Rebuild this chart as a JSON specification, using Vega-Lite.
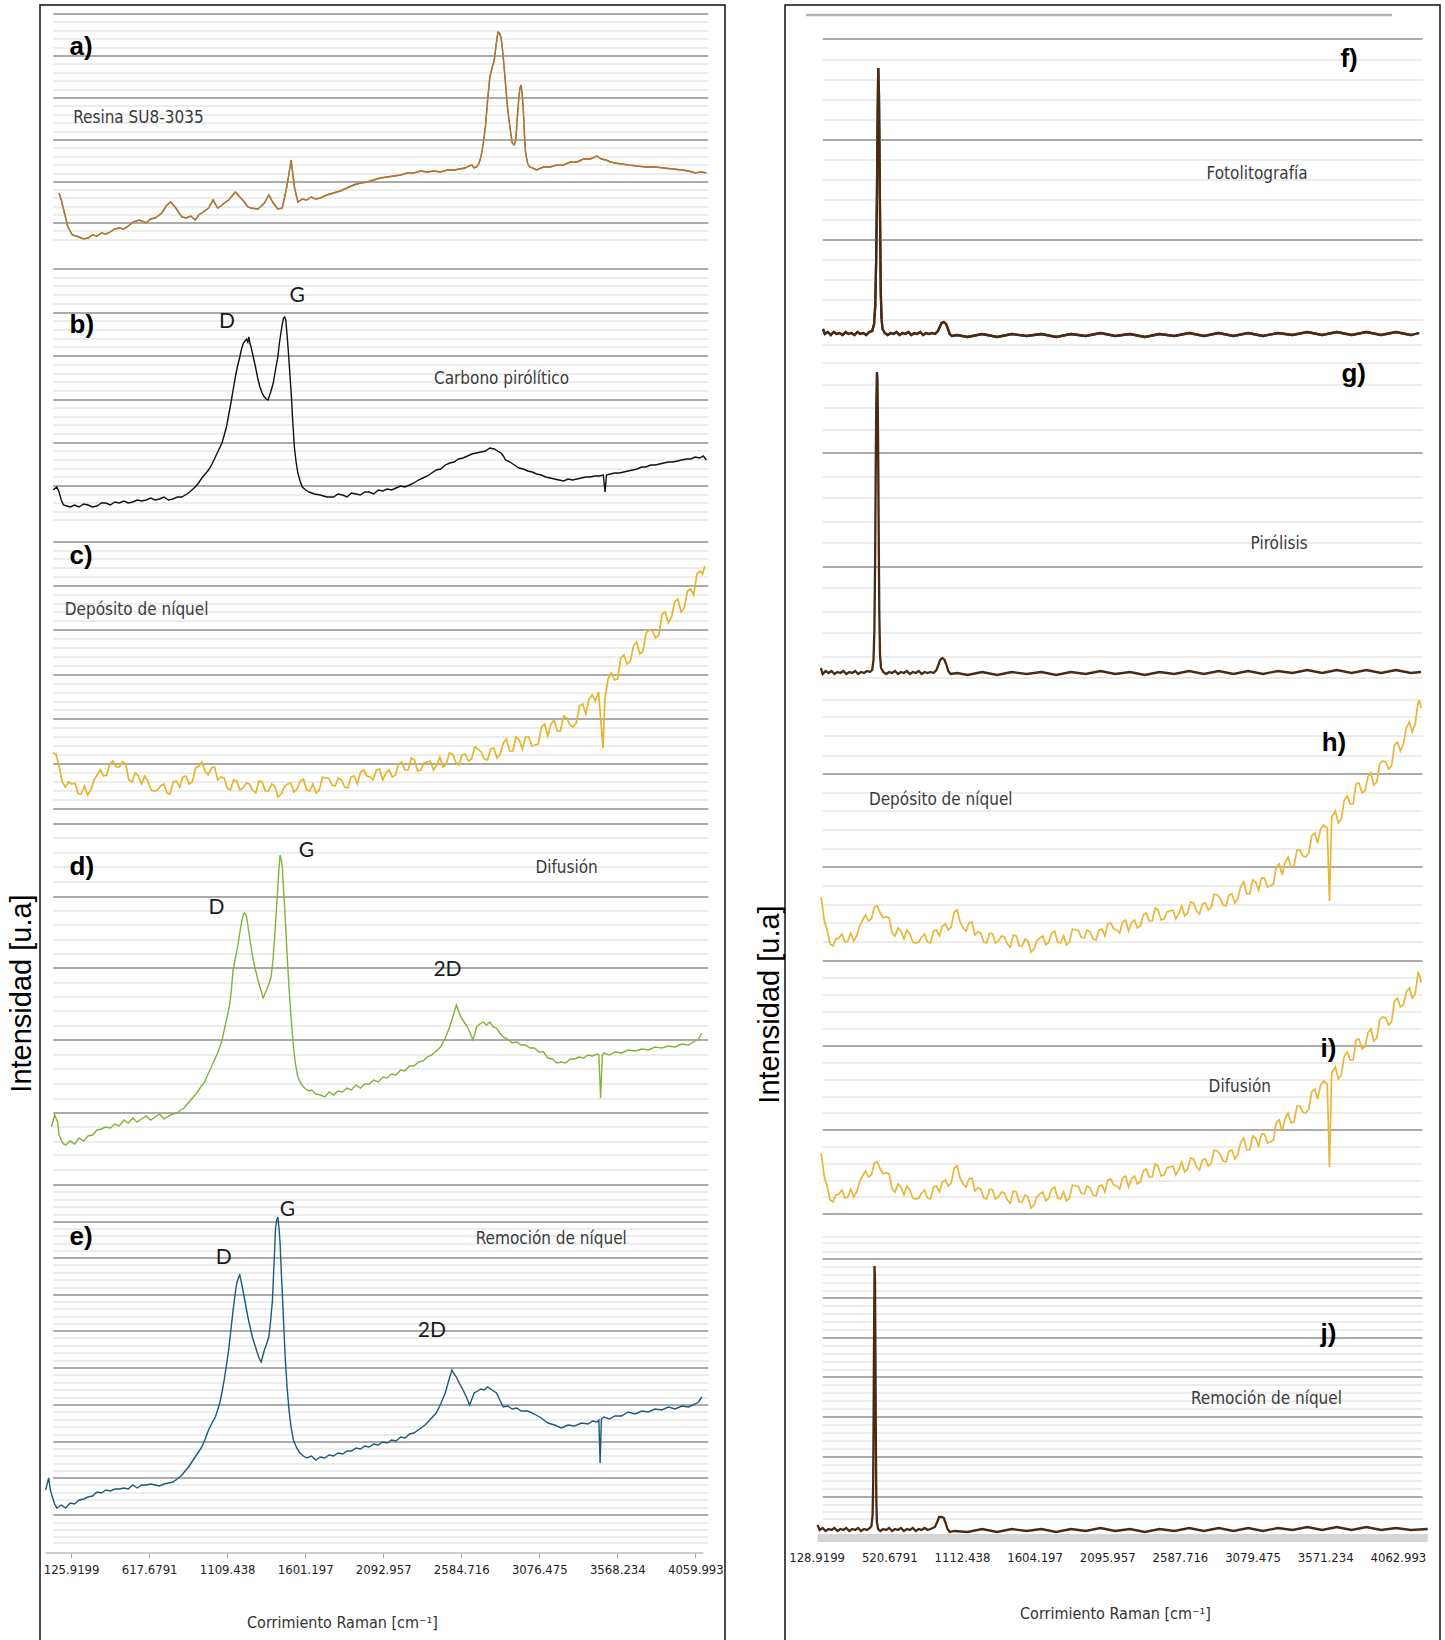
{
  "$schema": "https://vega.github.io/schema/vega-lite/v6.json",
  "padding": {"left": 6, "top": 4, "right": 0, "bottom": 0},
  "spacing": 28,
  "config": {
    "view": {"stroke": "#111111", "strokeWidth": 1.5},
    "font": "Liberation Sans"
  },
  "datasets": {
    "a": [{"x":50,"y":1447},{"x":64,"y":1440},{"x":106,"y":1413},{"x":134,"y":1405},{"x":155,"y":1404},{"x":176,"y":1403},{"x":205,"y":1401},{"x":233,"y":1402},{"x":260,"y":1405},{"x":289,"y":1404},{"x":317,"y":1407},{"x":345,"y":1406},{"x":373,"y":1408},{"x":400,"y":1411},{"x":430,"y":1412},{"x":458,"y":1411},{"x":486,"y":1414},{"x":520,"y":1418},{"x":556,"y":1420},{"x":599,"y":1417},{"x":627,"y":1421},{"x":655,"y":1422},{"x":697,"y":1427},{"x":725,"y":1434},{"x":753,"y":1438},{"x":781,"y":1433},{"x":824,"y":1423},{"x":852,"y":1422},{"x":880,"y":1424},{"x":908,"y":1420},{"x":930,"y":1425},{"x":950,"y":1427},{"x":992,"y":1432},{"x":1021,"y":1440},{"x":1049,"y":1432},{"x":1070,"y":1434},{"x":1091,"y":1437},{"x":1119,"y":1440},{"x":1140,"y":1444},{"x":1161,"y":1448},{"x":1189,"y":1443},{"x":1218,"y":1438},{"x":1240,"y":1433},{"x":1260,"y":1432},{"x":1302,"y":1431},{"x":1325,"y":1434},{"x":1344,"y":1437},{"x":1372,"y":1445},{"x":1400,"y":1437},{"x":1429,"y":1431},{"x":1457,"y":1432},{"x":1485,"y":1453},{"x":1513,"y":1480},{"x":1533,"y":1453},{"x":1555,"y":1438},{"x":1583,"y":1441},{"x":1611,"y":1440},{"x":1640,"y":1443},{"x":1668,"y":1441},{"x":1696,"y":1442},{"x":1738,"y":1445},{"x":1780,"y":1447},{"x":1822,"y":1449},{"x":1865,"y":1452},{"x":1907,"y":1455},{"x":1949,"y":1457},{"x":1991,"y":1458},{"x":2033,"y":1460},{"x":2075,"y":1462},{"x":2118,"y":1463},{"x":2160,"y":1464},{"x":2202,"y":1465},{"x":2245,"y":1467},{"x":2287,"y":1467},{"x":2329,"y":1469},{"x":2371,"y":1468},{"x":2413,"y":1469},{"x":2455,"y":1468},{"x":2497,"y":1470},{"x":2540,"y":1470},{"x":2575,"y":1471},{"x":2610,"y":1472},{"x":2632,"y":1474},{"x":2652,"y":1475},{"x":2666,"y":1472},{"x":2681,"y":1473},{"x":2695,"y":1476},{"x":2709,"y":1483},{"x":2723,"y":1496},{"x":2737,"y":1513},{"x":2751,"y":1540},{"x":2765,"y":1563},{"x":2779,"y":1572},{"x":2793,"y":1580},{"x":2805,"y":1596},{"x":2816,"y":1608},{"x":2825,"y":1607},{"x":2835,"y":1603},{"x":2845,"y":1590},{"x":2855,"y":1573},{"x":2866,"y":1552},{"x":2878,"y":1530},{"x":2892,"y":1512},{"x":2906,"y":1497},{"x":2918,"y":1495},{"x":2928,"y":1500},{"x":2938,"y":1522},{"x":2948,"y":1543},{"x":2955,"y":1552},{"x":2962,"y":1555},{"x":2969,"y":1545},{"x":2976,"y":1530},{"x":2983,"y":1505},{"x":2990,"y":1487},{"x":3004,"y":1476},{"x":3018,"y":1473},{"x":3060,"y":1470},{"x":3103,"y":1473},{"x":3145,"y":1473},{"x":3187,"y":1475},{"x":3230,"y":1475},{"x":3272,"y":1478},{"x":3314,"y":1478},{"x":3356,"y":1481},{"x":3398,"y":1481},{"x":3440,"y":1484},{"x":3468,"y":1481},{"x":3497,"y":1480},{"x":3525,"y":1478},{"x":3553,"y":1477},{"x":3595,"y":1476},{"x":3637,"y":1475},{"x":3693,"y":1474},{"x":3750,"y":1473},{"x":3806,"y":1473},{"x":3862,"y":1472},{"x":3918,"y":1471},{"x":3975,"y":1470},{"x":4017,"y":1469},{"x":4059,"y":1467},{"x":4095,"y":1468},{"x":4130,"y":1467}],
    "b": [{"x":13,"y":1150},{"x":36,"y":1153},{"x":50,"y":1148},{"x":64,"y":1140},{"x":78,"y":1135},{"x":100,"y":1134},{"x":120,"y":1133},{"x":148,"y":1135},{"x":176,"y":1133},{"x":205,"y":1136},{"x":233,"y":1135},{"x":261,"y":1133},{"x":289,"y":1134},{"x":317,"y":1137},{"x":345,"y":1137},{"x":373,"y":1135},{"x":402,"y":1138},{"x":430,"y":1137},{"x":458,"y":1139},{"x":486,"y":1137},{"x":514,"y":1138},{"x":542,"y":1140},{"x":570,"y":1139},{"x":599,"y":1140},{"x":627,"y":1142},{"x":655,"y":1140},{"x":683,"y":1141},{"x":711,"y":1143},{"x":739,"y":1140},{"x":767,"y":1141},{"x":796,"y":1143},{"x":824,"y":1143},{"x":845,"y":1145},{"x":866,"y":1147},{"x":887,"y":1150},{"x":908,"y":1153},{"x":929,"y":1157},{"x":950,"y":1162},{"x":971,"y":1166},{"x":992,"y":1170},{"x":1014,"y":1176},{"x":1035,"y":1183},{"x":1056,"y":1190},{"x":1077,"y":1197},{"x":1091,"y":1205},{"x":1105,"y":1213},{"x":1119,"y":1225},{"x":1133,"y":1237},{"x":1147,"y":1250},{"x":1161,"y":1263},{"x":1175,"y":1274},{"x":1189,"y":1283},{"x":1200,"y":1291},{"x":1212,"y":1297},{"x":1222,"y":1299},{"x":1232,"y":1301},{"x":1240,"y":1298},{"x":1246,"y":1303},{"x":1253,"y":1297},{"x":1260,"y":1293},{"x":1274,"y":1283},{"x":1288,"y":1273},{"x":1302,"y":1262},{"x":1316,"y":1253},{"x":1330,"y":1247},{"x":1344,"y":1243},{"x":1356,"y":1241},{"x":1367,"y":1240},{"x":1384,"y":1248},{"x":1400,"y":1257},{"x":1414,"y":1270},{"x":1429,"y":1283},{"x":1438,"y":1296},{"x":1448,"y":1307},{"x":1457,"y":1316},{"x":1465,"y":1322},{"x":1472,"y":1323},{"x":1479,"y":1320},{"x":1486,"y":1307},{"x":1493,"y":1293},{"x":1503,"y":1270},{"x":1513,"y":1247},{"x":1523,"y":1218},{"x":1533,"y":1193},{"x":1544,"y":1178},{"x":1555,"y":1167},{"x":1569,"y":1159},{"x":1583,"y":1153},{"x":1604,"y":1150},{"x":1626,"y":1148},{"x":1660,"y":1146},{"x":1696,"y":1145},{"x":1738,"y":1143},{"x":1780,"y":1143},{"x":1808,"y":1146},{"x":1837,"y":1145},{"x":1865,"y":1143},{"x":1893,"y":1147},{"x":1921,"y":1146},{"x":1949,"y":1145},{"x":1977,"y":1148},{"x":2005,"y":1148},{"x":2033,"y":1146},{"x":2062,"y":1150},{"x":2090,"y":1149},{"x":2118,"y":1151},{"x":2146,"y":1150},{"x":2174,"y":1152},{"x":2202,"y":1154},{"x":2230,"y":1153},{"x":2259,"y":1155},{"x":2287,"y":1157},{"x":2315,"y":1160},{"x":2343,"y":1162},{"x":2371,"y":1164},{"x":2399,"y":1167},{"x":2427,"y":1170},{"x":2455,"y":1171},{"x":2484,"y":1175},{"x":2512,"y":1177},{"x":2540,"y":1178},{"x":2568,"y":1181},{"x":2596,"y":1182},{"x":2624,"y":1184},{"x":2652,"y":1186},{"x":2681,"y":1187},{"x":2709,"y":1188},{"x":2737,"y":1189},{"x":2765,"y":1192},{"x":2793,"y":1191},{"x":2814,"y":1189},{"x":2835,"y":1187},{"x":2850,"y":1184},{"x":2864,"y":1180},{"x":2892,"y":1178},{"x":2920,"y":1175},{"x":2948,"y":1172},{"x":2976,"y":1171},{"x":3004,"y":1169},{"x":3032,"y":1168},{"x":3060,"y":1166},{"x":3089,"y":1165},{"x":3117,"y":1163},{"x":3145,"y":1162},{"x":3173,"y":1161},{"x":3201,"y":1160},{"x":3230,"y":1159},{"x":3258,"y":1161},{"x":3286,"y":1160},{"x":3314,"y":1161},{"x":3342,"y":1162},{"x":3370,"y":1163},{"x":3398,"y":1163},{"x":3426,"y":1164},{"x":3454,"y":1164},{"x":3480,"y":1165},{"x":3491,"y":1148},{"x":3500,"y":1165},{"x":3525,"y":1166},{"x":3553,"y":1167},{"x":3581,"y":1167},{"x":3609,"y":1168},{"x":3637,"y":1169},{"x":3665,"y":1170},{"x":3693,"y":1171},{"x":3722,"y":1173},{"x":3750,"y":1173},{"x":3778,"y":1175},{"x":3806,"y":1175},{"x":3834,"y":1176},{"x":3862,"y":1177},{"x":3890,"y":1178},{"x":3919,"y":1178},{"x":3947,"y":1179},{"x":3975,"y":1180},{"x":4003,"y":1181},{"x":4031,"y":1181},{"x":4059,"y":1183},{"x":4087,"y":1182},{"x":4110,"y":1184},{"x":4130,"y":1180}],
    "c": [{"x":10,"y":887},{"x":30,"y":886},{"x":50,"y":874},{"x":70,"y":858},{"x":90,"y":853},{"x":110,"y":858},{"x":130,"y":856},{"x":150,"y":857},{"x":170,"y":846},{"x":190,"y":846},{"x":210,"y":854},{"x":230,"y":845},{"x":250,"y":850},{"x":270,"y":860},{"x":290,"y":865},{"x":310,"y":870},{"x":330,"y":864},{"x":350,"y":865},{"x":370,"y":876},{"x":390,"y":879},{"x":410,"y":873},{"x":430,"y":873},{"x":450,"y":878},{"x":470,"y":876},{"x":490,"y":860},{"x":510,"y":858},{"x":530,"y":867},{"x":550,"y":864},{"x":570,"y":856},{"x":590,"y":864},{"x":610,"y":859},{"x":630,"y":850},{"x":650,"y":849},{"x":670,"y":850},{"x":690,"y":854},{"x":710,"y":856},{"x":730,"y":847},{"x":750,"y":846},{"x":770,"y":858},{"x":790,"y":859},{"x":810,"y":853},{"x":830,"y":863},{"x":850,"y":864},{"x":870,"y":856},{"x":890,"y":858},{"x":910,"y":872},{"x":930,"y":874},{"x":950,"y":878},{"x":970,"y":869},{"x":990,"y":865},{"x":1010,"y":872},{"x":1030,"y":873},{"x":1050,"y":860},{"x":1070,"y":863},{"x":1090,"y":862},{"x":1110,"y":852},{"x":1130,"y":850},{"x":1150,"y":860},{"x":1170,"y":859},{"x":1190,"y":850},{"x":1210,"y":852},{"x":1230,"y":857},{"x":1250,"y":856},{"x":1270,"y":850},{"x":1290,"y":847},{"x":1310,"y":859},{"x":1330,"y":858},{"x":1350,"y":849},{"x":1370,"y":849},{"x":1390,"y":856},{"x":1410,"y":854},{"x":1430,"y":843},{"x":1450,"y":846},{"x":1470,"y":853},{"x":1490,"y":856},{"x":1510,"y":857},{"x":1530,"y":848},{"x":1550,"y":851},{"x":1570,"y":859},{"x":1590,"y":861},{"x":1610,"y":850},{"x":1630,"y":849},{"x":1650,"y":856},{"x":1670,"y":847},{"x":1690,"y":850},{"x":1710,"y":863},{"x":1730,"y":862},{"x":1750,"y":862},{"x":1770,"y":855},{"x":1790,"y":854},{"x":1810,"y":862},{"x":1830,"y":860},{"x":1850,"y":853},{"x":1870,"y":852},{"x":1890,"y":863},{"x":1910,"y":864},{"x":1930,"y":856},{"x":1950,"y":868},{"x":1970,"y":870},{"x":1990,"y":864},{"x":2010,"y":863},{"x":2030,"y":860},{"x":2050,"y":870},{"x":2070,"y":871},{"x":2090,"y":860},{"x":2110,"y":867},{"x":2130,"y":870},{"x":2150,"y":863},{"x":2170,"y":865},{"x":2190,"y":876},{"x":2210,"y":878},{"x":2230,"y":870},{"x":2250,"y":870},{"x":2270,"y":882},{"x":2290,"y":880},{"x":2310,"y":869},{"x":2330,"y":870},{"x":2350,"y":877},{"x":2370,"y":878},{"x":2390,"y":879},{"x":2410,"y":870},{"x":2430,"y":875},{"x":2450,"y":883},{"x":2470,"y":873},{"x":2490,"y":876},{"x":2510,"y":887},{"x":2530,"y":886},{"x":2550,"y":878},{"x":2570,"y":875},{"x":2590,"y":885},{"x":2610,"y":886},{"x":2630,"y":879},{"x":2650,"y":881},{"x":2670,"y":893},{"x":2690,"y":891},{"x":2710,"y":888},{"x":2730,"y":881},{"x":2750,"y":880},{"x":2770,"y":891},{"x":2790,"y":892},{"x":2810,"y":882},{"x":2830,"y":886},{"x":2850,"y":897},{"x":2870,"y":901},{"x":2890,"y":889},{"x":2910,"y":889},{"x":2930,"y":903},{"x":2950,"y":900},{"x":2970,"y":891},{"x":2990,"y":903},{"x":3010,"y":903},{"x":3030,"y":894},{"x":3050,"y":895},{"x":3070,"y":896},{"x":3090,"y":913},{"x":3110,"y":916},{"x":3130,"y":904},{"x":3150,"y":916},{"x":3170,"y":920},{"x":3190,"y":909},{"x":3210,"y":909},{"x":3230,"y":924},{"x":3250,"y":922},{"x":3270,"y":915},{"x":3290,"y":913},{"x":3310,"y":917},{"x":3330,"y":934},{"x":3350,"y":936},{"x":3370,"y":926},{"x":3390,"y":941},{"x":3410,"y":945},{"x":3430,"y":939},{"x":3450,"y":948},{"x":3478,"y":892},{"x":3490,"y":941},{"x":3510,"y":961},{"x":3530,"y":967},{"x":3550,"y":960},{"x":3570,"y":961},{"x":3590,"y":982},{"x":3610,"y":985},{"x":3630,"y":976},{"x":3650,"y":979},{"x":3670,"y":994},{"x":3690,"y":998},{"x":3710,"y":986},{"x":3730,"y":989},{"x":3750,"y":1007},{"x":3770,"y":1010},{"x":3790,"y":1009},{"x":3810,"y":1002},{"x":3830,"y":1005},{"x":3850,"y":1026},{"x":3870,"y":1028},{"x":3890,"y":1017},{"x":3910,"y":1023},{"x":3930,"y":1038},{"x":3950,"y":1041},{"x":3970,"y":1028},{"x":3990,"y":1032},{"x":4010,"y":1049},{"x":4030,"y":1051},{"x":4050,"y":1045},{"x":4070,"y":1066},{"x":4090,"y":1069},{"x":4105,"y":1066},{"x":4120,"y":1074}],
    "d": [{"x":2,"y":513},{"x":22,"y":525},{"x":41,"y":518},{"x":50,"y":505},{"x":64,"y":500},{"x":78,"y":496},{"x":92,"y":495},{"x":120,"y":499},{"x":148,"y":496},{"x":176,"y":502},{"x":205,"y":499},{"x":233,"y":504},{"x":261,"y":505},{"x":289,"y":510},{"x":317,"y":511},{"x":345,"y":513},{"x":373,"y":512},{"x":402,"y":516},{"x":430,"y":514},{"x":458,"y":520},{"x":486,"y":517},{"x":514,"y":522},{"x":542,"y":518},{"x":570,"y":521},{"x":599,"y":524},{"x":627,"y":520},{"x":655,"y":523},{"x":683,"y":526},{"x":711,"y":521},{"x":739,"y":524},{"x":767,"y":526},{"x":795,"y":527},{"x":817,"y":530},{"x":838,"y":532},{"x":859,"y":536},{"x":880,"y":540},{"x":901,"y":544},{"x":922,"y":548},{"x":943,"y":553},{"x":964,"y":557},{"x":978,"y":562},{"x":992,"y":567},{"x":1007,"y":572},{"x":1021,"y":577},{"x":1035,"y":582},{"x":1049,"y":587},{"x":1063,"y":593},{"x":1077,"y":600},{"x":1091,"y":610},{"x":1105,"y":620},{"x":1116,"y":628},{"x":1127,"y":637},{"x":1137,"y":652},{"x":1147,"y":670},{"x":1161,"y":682},{"x":1175,"y":693},{"x":1189,"y":707},{"x":1203,"y":720},{"x":1210,"y":725},{"x":1218,"y":727},{"x":1225,"y":726},{"x":1232,"y":723},{"x":1246,"y":708},{"x":1260,"y":693},{"x":1274,"y":680},{"x":1288,"y":670},{"x":1302,"y":661},{"x":1316,"y":653},{"x":1326,"y":648},{"x":1336,"y":642},{"x":1347,"y":646},{"x":1358,"y":650},{"x":1372,"y":656},{"x":1386,"y":663},{"x":1398,"y":680},{"x":1409,"y":703},{"x":1419,"y":728},{"x":1429,"y":753},{"x":1436,"y":772},{"x":1443,"y":785},{"x":1450,"y":780},{"x":1457,"y":773},{"x":1466,"y":748},{"x":1476,"y":720},{"x":1487,"y":686},{"x":1499,"y":653},{"x":1513,"y":621},{"x":1527,"y":593},{"x":1541,"y":575},{"x":1555,"y":563},{"x":1576,"y":556},{"x":1597,"y":552},{"x":1625,"y":549},{"x":1640,"y":550},{"x":1668,"y":546},{"x":1696,"y":545},{"x":1724,"y":543},{"x":1752,"y":548},{"x":1780,"y":545},{"x":1808,"y":549},{"x":1836,"y":548},{"x":1865,"y":552},{"x":1893,"y":550},{"x":1921,"y":555},{"x":1949,"y":552},{"x":1977,"y":556},{"x":2005,"y":556},{"x":2033,"y":560},{"x":2062,"y":558},{"x":2090,"y":563},{"x":2118,"y":562},{"x":2146,"y":566},{"x":2174,"y":565},{"x":2202,"y":570},{"x":2230,"y":569},{"x":2258,"y":574},{"x":2287,"y":574},{"x":2315,"y":578},{"x":2343,"y":579},{"x":2371,"y":583},{"x":2399,"y":585},{"x":2427,"y":589},{"x":2455,"y":593},{"x":2484,"y":602},{"x":2512,"y":613},{"x":2533,"y":624},{"x":2554,"y":635},{"x":2568,"y":629},{"x":2582,"y":623},{"x":2603,"y":618},{"x":2624,"y":613},{"x":2641,"y":607},{"x":2658,"y":600},{"x":2670,"y":606},{"x":2681,"y":613},{"x":2702,"y":616},{"x":2723,"y":618},{"x":2744,"y":615},{"x":2765,"y":618},{"x":2786,"y":613},{"x":2807,"y":612},{"x":2828,"y":607},{"x":2849,"y":603},{"x":2877,"y":601},{"x":2906,"y":597},{"x":2934,"y":598},{"x":2962,"y":595},{"x":2990,"y":595},{"x":3018,"y":592},{"x":3046,"y":592},{"x":3075,"y":588},{"x":3103,"y":588},{"x":3131,"y":582},{"x":3159,"y":581},{"x":3187,"y":577},{"x":3215,"y":578},{"x":3243,"y":577},{"x":3271,"y":581},{"x":3300,"y":581},{"x":3328,"y":583},{"x":3356,"y":582},{"x":3384,"y":585},{"x":3412,"y":584},{"x":3440,"y":586},{"x":3452,"y":585},{"x":3463,"y":542},{"x":3474,"y":585},{"x":3483,"y":587},{"x":3518,"y":585},{"x":3553,"y":588},{"x":3595,"y":587},{"x":3637,"y":590},{"x":3680,"y":589},{"x":3722,"y":591},{"x":3764,"y":590},{"x":3806,"y":593},{"x":3848,"y":592},{"x":3890,"y":594},{"x":3932,"y":593},{"x":3975,"y":596},{"x":4017,"y":595},{"x":4059,"y":599},{"x":4080,"y":601},{"x":4101,"y":607}],
    "e": [{"x":-35,"y":150},{"x":-15,"y":162},{"x":-5,"y":150},{"x":8,"y":143},{"x":22,"y":136},{"x":36,"y":132},{"x":64,"y":135},{"x":92,"y":132},{"x":120,"y":137},{"x":148,"y":136},{"x":176,"y":140},{"x":205,"y":141},{"x":233,"y":143},{"x":261,"y":144},{"x":289,"y":148},{"x":317,"y":147},{"x":345,"y":150},{"x":373,"y":149},{"x":402,"y":151},{"x":430,"y":151},{"x":458,"y":152},{"x":486,"y":151},{"x":514,"y":155},{"x":542,"y":152},{"x":570,"y":155},{"x":599,"y":155},{"x":627,"y":156},{"x":655,"y":155},{"x":683,"y":154},{"x":711,"y":156},{"x":739,"y":157},{"x":767,"y":158},{"x":795,"y":161},{"x":824,"y":165},{"x":845,"y":169},{"x":866,"y":173},{"x":887,"y":178},{"x":908,"y":183},{"x":929,"y":188},{"x":950,"y":193},{"x":971,"y":201},{"x":992,"y":210},{"x":1014,"y":217},{"x":1035,"y":223},{"x":1049,"y":230},{"x":1063,"y":237},{"x":1077,"y":248},{"x":1091,"y":260},{"x":1105,"y":275},{"x":1119,"y":290},{"x":1133,"y":310},{"x":1147,"y":330},{"x":1158,"y":344},{"x":1170,"y":357},{"x":1180,"y":362},{"x":1189,"y":365},{"x":1200,"y":357},{"x":1212,"y":347},{"x":1226,"y":335},{"x":1240,"y":323},{"x":1254,"y":313},{"x":1268,"y":303},{"x":1278,"y":298},{"x":1288,"y":293},{"x":1298,"y":288},{"x":1308,"y":283},{"x":1316,"y":280},{"x":1324,"y":278},{"x":1334,"y":284},{"x":1344,"y":290},{"x":1358,"y":296},{"x":1372,"y":303},{"x":1384,"y":320},{"x":1395,"y":340},{"x":1405,"y":377},{"x":1415,"y":413},{"x":1422,"y":420},{"x":1429,"y":423},{"x":1436,"y":412},{"x":1443,"y":397},{"x":1450,"y":370},{"x":1457,"y":347},{"x":1466,"y":315},{"x":1476,"y":280},{"x":1487,"y":253},{"x":1499,"y":230},{"x":1513,"y":212},{"x":1527,"y":200},{"x":1548,"y":192},{"x":1569,"y":187},{"x":1590,"y":184},{"x":1611,"y":182},{"x":1640,"y":184},{"x":1668,"y":180},{"x":1696,"y":183},{"x":1724,"y":182},{"x":1752,"y":185},{"x":1780,"y":184},{"x":1808,"y":187},{"x":1837,"y":186},{"x":1865,"y":189},{"x":1893,"y":189},{"x":1921,"y":192},{"x":1949,"y":191},{"x":1977,"y":194},{"x":2005,"y":193},{"x":2033,"y":196},{"x":2062,"y":195},{"x":2090,"y":198},{"x":2118,"y":197},{"x":2146,"y":200},{"x":2174,"y":199},{"x":2202,"y":203},{"x":2230,"y":202},{"x":2259,"y":206},{"x":2287,"y":207},{"x":2322,"y":211},{"x":2357,"y":215},{"x":2392,"y":221},{"x":2427,"y":227},{"x":2455,"y":236},{"x":2484,"y":247},{"x":2505,"y":259},{"x":2526,"y":270},{"x":2540,"y":266},{"x":2554,"y":263},{"x":2575,"y":256},{"x":2596,"y":250},{"x":2617,"y":243},{"x":2638,"y":235},{"x":2652,"y":241},{"x":2666,"y":247},{"x":2688,"y":249},{"x":2709,"y":251},{"x":2730,"y":250},{"x":2751,"y":253},{"x":2779,"y":250},{"x":2807,"y":247},{"x":2828,"y":240},{"x":2849,"y":233},{"x":2877,"y":234},{"x":2906,"y":231},{"x":2934,"y":232},{"x":2962,"y":229},{"x":3004,"y":229},{"x":3046,"y":226},{"x":3089,"y":222},{"x":3131,"y":217},{"x":3173,"y":215},{"x":3215,"y":212},{"x":3258,"y":215},{"x":3300,"y":214},{"x":3342,"y":217},{"x":3384,"y":216},{"x":3412,"y":219},{"x":3440,"y":218},{"x":3452,"y":220},{"x":3460,"y":177},{"x":3468,"y":221},{"x":3483,"y":223},{"x":3518,"y":221},{"x":3553,"y":224},{"x":3595,"y":224},{"x":3637,"y":228},{"x":3680,"y":226},{"x":3722,"y":229},{"x":3764,"y":228},{"x":3806,"y":231},{"x":3848,"y":230},{"x":3890,"y":233},{"x":3932,"y":231},{"x":3975,"y":234},{"x":4017,"y":233},{"x":4059,"y":236},{"x":4080,"y":238},{"x":4101,"y":243}],
    "f": [{"x":172,"y":1311},{"x":185,"y":1306},{"x":205,"y":1308},{"x":225,"y":1305},{"x":245,"y":1308},{"x":265,"y":1306},{"x":285,"y":1307},{"x":305,"y":1305},{"x":325,"y":1308},{"x":345,"y":1306},{"x":365,"y":1307},{"x":385,"y":1305},{"x":405,"y":1308},{"x":425,"y":1306},{"x":445,"y":1307},{"x":465,"y":1305},{"x":485,"y":1308},{"x":505,"y":1309},{"x":518,"y":1316},{"x":526,"y":1335},{"x":532,"y":1380},{"x":537,"y":1440},{"x":541,"y":1510},{"x":546,"y":1572},{"x":551,"y":1545},{"x":555,"y":1480},{"x":559,"y":1410},{"x":563,"y":1350},{"x":568,"y":1322},{"x":575,"y":1311},{"x":590,"y":1307},{"x":610,"y":1305},{"x":630,"y":1307},{"x":650,"y":1306},{"x":670,"y":1308},{"x":690,"y":1305},{"x":710,"y":1307},{"x":730,"y":1306},{"x":750,"y":1308},{"x":770,"y":1305},{"x":790,"y":1307},{"x":810,"y":1306},{"x":830,"y":1308},{"x":850,"y":1305},{"x":870,"y":1307},{"x":890,"y":1306},{"x":910,"y":1307},{"x":930,"y":1306},{"x":950,"y":1309},{"x":962,"y":1313},{"x":975,"y":1317},{"x":990,"y":1318},{"x":1005,"y":1316},{"x":1018,"y":1311},{"x":1030,"y":1306},{"x":1045,"y":1304},{"x":1080,"y":1305},{"x":1150,"y":1303},{"x":1250,"y":1306},{"x":1350,"y":1303},{"x":1450,"y":1306},{"x":1550,"y":1304},{"x":1650,"y":1306},{"x":1750,"y":1303},{"x":1850,"y":1306},{"x":1950,"y":1304},{"x":2050,"y":1307},{"x":2150,"y":1304},{"x":2250,"y":1306},{"x":2350,"y":1303},{"x":2450,"y":1306},{"x":2550,"y":1304},{"x":2650,"y":1307},{"x":2750,"y":1304},{"x":2850,"y":1307},{"x":2950,"y":1304},{"x":3050,"y":1307},{"x":3150,"y":1304},{"x":3250,"y":1307},{"x":3350,"y":1305},{"x":3450,"y":1308},{"x":3550,"y":1305},{"x":3650,"y":1308},{"x":3750,"y":1305},{"x":3850,"y":1308},{"x":3950,"y":1305},{"x":4050,"y":1308},{"x":4150,"y":1305},{"x":4207,"y":1307}],
    "g": [{"x":158,"y":972},{"x":170,"y":966},{"x":190,"y":969},{"x":210,"y":967},{"x":230,"y":969},{"x":250,"y":966},{"x":270,"y":968},{"x":290,"y":967},{"x":310,"y":969},{"x":330,"y":966},{"x":350,"y":968},{"x":370,"y":967},{"x":390,"y":969},{"x":410,"y":966},{"x":430,"y":968},{"x":450,"y":967},{"x":470,"y":969},{"x":490,"y":968},{"x":505,"y":970},{"x":514,"y":980},{"x":520,"y":1010},{"x":525,"y":1080},{"x":529,"y":1170},{"x":533,"y":1240},{"x":537,"y":1268},{"x":541,"y":1262},{"x":545,"y":1200},{"x":549,"y":1110},{"x":553,"y":1030},{"x":558,"y":985},{"x":565,"y":972},{"x":580,"y":968},{"x":600,"y":966},{"x":620,"y":968},{"x":640,"y":967},{"x":660,"y":969},{"x":680,"y":966},{"x":700,"y":968},{"x":720,"y":967},{"x":740,"y":969},{"x":760,"y":966},{"x":780,"y":968},{"x":800,"y":967},{"x":820,"y":969},{"x":840,"y":966},{"x":860,"y":968},{"x":880,"y":967},{"x":900,"y":968},{"x":920,"y":967},{"x":940,"y":970},{"x":953,"y":975},{"x":965,"y":980},{"x":980,"y":982},{"x":995,"y":980},{"x":1008,"y":975},{"x":1020,"y":969},{"x":1035,"y":966},{"x":1080,"y":967},{"x":1150,"y":965},{"x":1250,"y":968},{"x":1350,"y":965},{"x":1450,"y":968},{"x":1550,"y":966},{"x":1650,"y":968},{"x":1750,"y":965},{"x":1850,"y":968},{"x":1950,"y":966},{"x":2050,"y":969},{"x":2150,"y":966},{"x":2250,"y":968},{"x":2350,"y":965},{"x":2450,"y":968},{"x":2550,"y":966},{"x":2650,"y":969},{"x":2750,"y":966},{"x":2850,"y":969},{"x":2950,"y":966},{"x":3050,"y":969},{"x":3150,"y":966},{"x":3250,"y":969},{"x":3350,"y":967},{"x":3450,"y":970},{"x":3550,"y":967},{"x":3650,"y":970},{"x":3750,"y":967},{"x":3850,"y":970},{"x":3950,"y":967},{"x":4050,"y":970},{"x":4150,"y":967},{"x":4220,"y":968}],
    "h": [{"x":160,"y":743},{"x":180,"y":720},{"x":200,"y":710},{"x":220,"y":696},{"x":240,"y":694},{"x":260,"y":701},{"x":280,"y":702},{"x":300,"y":706},{"x":320,"y":698},{"x":340,"y":699},{"x":360,"y":707},{"x":380,"y":699},{"x":400,"y":704},{"x":420,"y":714},{"x":440,"y":720},{"x":460,"y":725},{"x":480,"y":719},{"x":500,"y":721},{"x":520,"y":733},{"x":540,"y":734},{"x":560,"y":727},{"x":580,"y":722},{"x":600,"y":723},{"x":620,"y":722},{"x":640,"y":707},{"x":660,"y":704},{"x":680,"y":712},{"x":700,"y":709},{"x":720,"y":701},{"x":740,"y":710},{"x":760,"y":706},{"x":780,"y":698},{"x":800,"y":697},{"x":820,"y":698},{"x":840,"y":703},{"x":860,"y":706},{"x":880,"y":698},{"x":900,"y":697},{"x":920,"y":709},{"x":940,"y":710},{"x":960,"y":704},{"x":980,"y":714},{"x":1000,"y":716},{"x":1020,"y":710},{"x":1040,"y":713},{"x":1060,"y":728},{"x":1080,"y":730},{"x":1100,"y":718},{"x":1120,"y":712},{"x":1140,"y":709},{"x":1160,"y":717},{"x":1180,"y":718},{"x":1200,"y":705},{"x":1220,"y":708},{"x":1240,"y":707},{"x":1260,"y":698},{"x":1280,"y":697},{"x":1300,"y":707},{"x":1320,"y":706},{"x":1340,"y":697},{"x":1360,"y":699},{"x":1380,"y":704},{"x":1400,"y":703},{"x":1420,"y":696},{"x":1440,"y":693},{"x":1460,"y":705},{"x":1480,"y":704},{"x":1500,"y":694},{"x":1520,"y":694},{"x":1540,"y":701},{"x":1560,"y":699},{"x":1580,"y":688},{"x":1600,"y":691},{"x":1620,"y":699},{"x":1640,"y":702},{"x":1660,"y":704},{"x":1680,"y":695},{"x":1700,"y":698},{"x":1720,"y":707},{"x":1740,"y":709},{"x":1760,"y":698},{"x":1780,"y":697},{"x":1800,"y":704},{"x":1820,"y":695},{"x":1840,"y":698},{"x":1860,"y":711},{"x":1880,"y":710},{"x":1900,"y":710},{"x":1920,"y":703},{"x":1940,"y":702},{"x":1960,"y":710},{"x":1980,"y":708},{"x":2000,"y":701},{"x":2020,"y":700},{"x":2040,"y":710},{"x":2060,"y":711},{"x":2080,"y":704},{"x":2100,"y":716},{"x":2120,"y":717},{"x":2140,"y":711},{"x":2160,"y":710},{"x":2180,"y":707},{"x":2200,"y":718},{"x":2220,"y":720},{"x":2240,"y":709},{"x":2260,"y":717},{"x":2280,"y":720},{"x":2300,"y":712},{"x":2320,"y":714},{"x":2340,"y":725},{"x":2360,"y":727},{"x":2380,"y":719},{"x":2400,"y":719},{"x":2420,"y":732},{"x":2440,"y":730},{"x":2460,"y":720},{"x":2480,"y":721},{"x":2500,"y":728},{"x":2520,"y":729},{"x":2540,"y":730},{"x":2560,"y":721},{"x":2580,"y":726},{"x":2600,"y":734},{"x":2620,"y":724},{"x":2640,"y":727},{"x":2660,"y":738},{"x":2680,"y":737},{"x":2700,"y":729},{"x":2720,"y":726},{"x":2740,"y":736},{"x":2760,"y":737},{"x":2780,"y":730},{"x":2800,"y":733},{"x":2820,"y":746},{"x":2840,"y":745},{"x":2860,"y":742},{"x":2880,"y":735},{"x":2900,"y":734},{"x":2920,"y":745},{"x":2940,"y":746},{"x":2960,"y":737},{"x":2980,"y":742},{"x":3000,"y":754},{"x":3020,"y":758},{"x":3040,"y":746},{"x":3060,"y":746},{"x":3080,"y":760},{"x":3100,"y":758},{"x":3120,"y":750},{"x":3140,"y":762},{"x":3160,"y":762},{"x":3180,"y":753},{"x":3200,"y":754},{"x":3220,"y":756},{"x":3240,"y":773},{"x":3260,"y":776},{"x":3280,"y":765},{"x":3300,"y":778},{"x":3320,"y":783},{"x":3340,"y":773},{"x":3360,"y":774},{"x":3380,"y":790},{"x":3400,"y":790},{"x":3420,"y":784},{"x":3440,"y":783},{"x":3460,"y":787},{"x":3480,"y":804},{"x":3500,"y":807},{"x":3520,"y":797},{"x":3540,"y":811},{"x":3560,"y":815},{"x":3585,"y":812},{"x":3600,"y":739},{"x":3615,"y":823},{"x":3640,"y":829},{"x":3660,"y":817},{"x":3680,"y":821},{"x":3700,"y":840},{"x":3720,"y":844},{"x":3740,"y":836},{"x":3760,"y":836},{"x":3780,"y":856},{"x":3800,"y":857},{"x":3820,"y":847},{"x":3840,"y":849},{"x":3860,"y":863},{"x":3880,"y":867},{"x":3900,"y":855},{"x":3920,"y":858},{"x":3940,"y":876},{"x":3960,"y":879},{"x":3980,"y":878},{"x":4000,"y":871},{"x":4020,"y":874},{"x":4040,"y":895},{"x":4060,"y":898},{"x":4080,"y":889},{"x":4100,"y":896},{"x":4120,"y":912},{"x":4140,"y":918},{"x":4160,"y":908},{"x":4180,"y":916},{"x":4200,"y":938},{"x":4210,"y":939},{"x":4220,"y":932}],
    "i": [{"x":160,"y":487},{"x":180,"y":464},{"x":200,"y":454},{"x":220,"y":440},{"x":240,"y":438},{"x":260,"y":445},{"x":280,"y":446},{"x":300,"y":450},{"x":320,"y":442},{"x":340,"y":443},{"x":360,"y":451},{"x":380,"y":443},{"x":400,"y":448},{"x":420,"y":458},{"x":440,"y":464},{"x":460,"y":469},{"x":480,"y":463},{"x":500,"y":465},{"x":520,"y":477},{"x":540,"y":478},{"x":560,"y":471},{"x":580,"y":466},{"x":600,"y":467},{"x":620,"y":466},{"x":640,"y":451},{"x":660,"y":448},{"x":680,"y":456},{"x":700,"y":453},{"x":720,"y":445},{"x":740,"y":454},{"x":760,"y":450},{"x":780,"y":442},{"x":800,"y":441},{"x":820,"y":442},{"x":840,"y":447},{"x":860,"y":450},{"x":880,"y":442},{"x":900,"y":441},{"x":920,"y":453},{"x":940,"y":454},{"x":960,"y":448},{"x":980,"y":458},{"x":1000,"y":460},{"x":1020,"y":454},{"x":1040,"y":457},{"x":1060,"y":472},{"x":1080,"y":474},{"x":1100,"y":462},{"x":1120,"y":456},{"x":1140,"y":453},{"x":1160,"y":461},{"x":1180,"y":462},{"x":1200,"y":449},{"x":1220,"y":452},{"x":1240,"y":451},{"x":1260,"y":442},{"x":1280,"y":441},{"x":1300,"y":451},{"x":1320,"y":450},{"x":1340,"y":441},{"x":1360,"y":443},{"x":1380,"y":448},{"x":1400,"y":447},{"x":1420,"y":440},{"x":1440,"y":437},{"x":1460,"y":449},{"x":1480,"y":448},{"x":1500,"y":438},{"x":1520,"y":438},{"x":1540,"y":445},{"x":1560,"y":443},{"x":1580,"y":432},{"x":1600,"y":435},{"x":1620,"y":443},{"x":1640,"y":446},{"x":1660,"y":448},{"x":1680,"y":439},{"x":1700,"y":442},{"x":1720,"y":451},{"x":1740,"y":453},{"x":1760,"y":442},{"x":1780,"y":441},{"x":1800,"y":448},{"x":1820,"y":439},{"x":1840,"y":442},{"x":1860,"y":455},{"x":1880,"y":454},{"x":1900,"y":454},{"x":1920,"y":447},{"x":1940,"y":446},{"x":1960,"y":454},{"x":1980,"y":452},{"x":2000,"y":445},{"x":2020,"y":444},{"x":2040,"y":454},{"x":2060,"y":455},{"x":2080,"y":448},{"x":2100,"y":460},{"x":2120,"y":461},{"x":2140,"y":455},{"x":2160,"y":454},{"x":2180,"y":451},{"x":2200,"y":462},{"x":2220,"y":464},{"x":2240,"y":453},{"x":2260,"y":461},{"x":2280,"y":464},{"x":2300,"y":456},{"x":2320,"y":458},{"x":2340,"y":469},{"x":2360,"y":471},{"x":2380,"y":463},{"x":2400,"y":463},{"x":2420,"y":476},{"x":2440,"y":474},{"x":2460,"y":464},{"x":2480,"y":465},{"x":2500,"y":472},{"x":2520,"y":473},{"x":2540,"y":474},{"x":2560,"y":465},{"x":2580,"y":470},{"x":2600,"y":478},{"x":2620,"y":468},{"x":2640,"y":471},{"x":2660,"y":482},{"x":2680,"y":481},{"x":2700,"y":473},{"x":2720,"y":470},{"x":2740,"y":480},{"x":2760,"y":481},{"x":2780,"y":474},{"x":2800,"y":477},{"x":2820,"y":490},{"x":2840,"y":489},{"x":2860,"y":486},{"x":2880,"y":479},{"x":2900,"y":478},{"x":2920,"y":489},{"x":2940,"y":490},{"x":2960,"y":481},{"x":2980,"y":486},{"x":3000,"y":498},{"x":3020,"y":502},{"x":3040,"y":490},{"x":3060,"y":490},{"x":3080,"y":504},{"x":3100,"y":502},{"x":3120,"y":494},{"x":3140,"y":506},{"x":3160,"y":506},{"x":3180,"y":497},{"x":3200,"y":498},{"x":3220,"y":500},{"x":3240,"y":517},{"x":3260,"y":520},{"x":3280,"y":509},{"x":3300,"y":522},{"x":3320,"y":527},{"x":3340,"y":517},{"x":3360,"y":518},{"x":3380,"y":534},{"x":3400,"y":534},{"x":3420,"y":528},{"x":3440,"y":527},{"x":3460,"y":531},{"x":3480,"y":548},{"x":3500,"y":551},{"x":3520,"y":541},{"x":3540,"y":555},{"x":3560,"y":559},{"x":3585,"y":556},{"x":3600,"y":473},{"x":3615,"y":567},{"x":3640,"y":573},{"x":3660,"y":561},{"x":3680,"y":565},{"x":3700,"y":584},{"x":3720,"y":588},{"x":3740,"y":580},{"x":3760,"y":580},{"x":3780,"y":600},{"x":3800,"y":601},{"x":3820,"y":591},{"x":3840,"y":593},{"x":3860,"y":607},{"x":3880,"y":611},{"x":3900,"y":599},{"x":3920,"y":602},{"x":3940,"y":620},{"x":3960,"y":623},{"x":3980,"y":622},{"x":4000,"y":615},{"x":4020,"y":618},{"x":4040,"y":639},{"x":4060,"y":642},{"x":4080,"y":633},{"x":4100,"y":635},{"x":4120,"y":648},{"x":4140,"y":652},{"x":4160,"y":642},{"x":4180,"y":646},{"x":4200,"y":667},{"x":4210,"y":665},{"x":4220,"y":657}],
    "j": [{"x":135,"y":115},{"x":150,"y":110},{"x":170,"y":112},{"x":190,"y":109},{"x":210,"y":111},{"x":230,"y":110},{"x":250,"y":112},{"x":270,"y":109},{"x":290,"y":111},{"x":310,"y":110},{"x":330,"y":112},{"x":350,"y":109},{"x":370,"y":111},{"x":390,"y":110},{"x":410,"y":112},{"x":430,"y":109},{"x":450,"y":111},{"x":470,"y":110},{"x":490,"y":112},{"x":500,"y":114},{"x":508,"y":125},{"x":512,"y":160},{"x":515,"y":230},{"x":518,"y":310},{"x":521,"y":374},{"x":524,"y":360},{"x":527,"y":290},{"x":530,"y":200},{"x":533,"y":140},{"x":537,"y":118},{"x":545,"y":111},{"x":560,"y":109},{"x":580,"y":111},{"x":600,"y":110},{"x":620,"y":112},{"x":640,"y":109},{"x":660,"y":111},{"x":680,"y":110},{"x":700,"y":112},{"x":720,"y":109},{"x":740,"y":111},{"x":760,"y":110},{"x":780,"y":112},{"x":800,"y":109},{"x":820,"y":111},{"x":840,"y":110},{"x":860,"y":112},{"x":880,"y":110},{"x":900,"y":111},{"x":930,"y":113},{"x":945,"y":118},{"x":958,"y":123},{"x":975,"y":123},{"x":990,"y":122},{"x":1002,"y":117},{"x":1015,"y":111},{"x":1030,"y":108},{"x":1060,"y":109},{"x":1150,"y":108},{"x":1250,"y":111},{"x":1350,"y":108},{"x":1450,"y":111},{"x":1550,"y":109},{"x":1650,"y":111},{"x":1750,"y":108},{"x":1850,"y":111},{"x":1950,"y":109},{"x":2050,"y":112},{"x":2150,"y":109},{"x":2250,"y":111},{"x":2350,"y":108},{"x":2450,"y":111},{"x":2550,"y":109},{"x":2650,"y":112},{"x":2750,"y":109},{"x":2850,"y":112},{"x":2950,"y":109},{"x":3050,"y":112},{"x":3150,"y":109},{"x":3250,"y":112},{"x":3350,"y":110},{"x":3450,"y":113},{"x":3550,"y":110},{"x":3650,"y":113},{"x":3750,"y":110},{"x":3850,"y":113},{"x":3950,"y":110},{"x":4050,"y":112},{"x":4150,"y":110},{"x":4265,"y":111}],
    "gridL": [{"y":1626,"k":"M"},{"y":1584,"k":"M"},{"y":1542,"k":"M"},{"y":1500,"k":"M"},{"y":1458,"k":"M"},{"y":1417,"k":"M"},{"y":1371,"k":"M"},{"y":1327,"k":"M"},{"y":1284,"k":"M"},{"y":1240,"k":"M"},{"y":1197,"k":"M"},{"y":1154,"k":"M"},{"y":1098,"k":"M"},{"y":1054,"k":"M"},{"y":1010,"k":"M"},{"y":965,"k":"M"},{"y":921,"k":"M"},{"y":876,"k":"M"},{"y":831,"k":"M"},{"y":816,"k":"M"},{"y":743,"k":"M"},{"y":672,"k":"M"},{"y":600,"k":"M"},{"y":527,"k":"M"},{"y":455,"k":"M"},{"y":418,"k":"M"},{"y":382,"k":"M"},{"y":345,"k":"M"},{"y":309,"k":"M"},{"y":272,"k":"M"},{"y":235,"k":"M"},{"y":198,"k":"M"},{"y":162,"k":"M"},{"y":125,"k":"M"},
      {"y":1618,"k":"m"},{"y":1609,"k":"m"},{"y":1601,"k":"m"},{"y":1592,"k":"m"},{"y":1576,"k":"m"},{"y":1567,"k":"m"},{"y":1559,"k":"m"},{"y":1550,"k":"m"},{"y":1534,"k":"m"},{"y":1525,"k":"m"},{"y":1517,"k":"m"},{"y":1508,"k":"m"},{"y":1492,"k":"m"},{"y":1483,"k":"m"},{"y":1475,"k":"m"},{"y":1466,"k":"m"},{"y":1450,"k":"m"},{"y":1442,"k":"m"},{"y":1433,"k":"m"},{"y":1425,"k":"m"},{"y":1409,"k":"m"},{"y":1400,"k":"m"},{"y":1362,"k":"m"},{"y":1354,"k":"m"},{"y":1345,"k":"m"},{"y":1336,"k":"m"},{"y":1319,"k":"m"},{"y":1310,"k":"m"},{"y":1301,"k":"m"},{"y":1293,"k":"m"},{"y":1275,"k":"m"},{"y":1266,"k":"m"},{"y":1258,"k":"m"},{"y":1249,"k":"m"},{"y":1232,"k":"m"},{"y":1223,"k":"m"},{"y":1215,"k":"m"},{"y":1206,"k":"m"},{"y":1189,"k":"m"},{"y":1180,"k":"m"},{"y":1171,"k":"m"},{"y":1163,"k":"m"},{"y":1145,"k":"m"},{"y":1137,"k":"m"},{"y":1128,"k":"m"},{"y":1120,"k":"m"},{"y":1089,"k":"m"},{"y":1081,"k":"m"},{"y":1072,"k":"m"},{"y":1063,"k":"m"},{"y":1045,"k":"m"},{"y":1036,"k":"m"},{"y":1028,"k":"m"},{"y":1019,"k":"m"},{"y":1001,"k":"m"},{"y":992,"k":"m"},{"y":983,"k":"m"},{"y":974,"k":"m"},{"y":956,"k":"m"},{"y":947,"k":"m"},{"y":938,"k":"m"},{"y":930,"k":"m"},{"y":912,"k":"m"},{"y":903,"k":"m"},{"y":894,"k":"m"},{"y":885,"k":"m"},{"y":867,"k":"m"},{"y":858,"k":"m"},{"y":849,"k":"m"},{"y":840,"k":"m"},{"y":802,"k":"m"},{"y":787,"k":"m"},{"y":773,"k":"m"},{"y":758,"k":"m"},{"y":729,"k":"m"},{"y":715,"k":"m"},{"y":700,"k":"m"},{"y":686,"k":"m"},{"y":657,"k":"m"},{"y":643,"k":"m"},{"y":629,"k":"m"},{"y":614,"k":"m"},{"y":585,"k":"m"},{"y":571,"k":"m"},{"y":556,"k":"m"},{"y":541,"k":"m"},{"y":513,"k":"m"},{"y":498,"k":"m"},{"y":485,"k":"m"},{"y":470,"k":"m"},{"y":448,"k":"m"},{"y":440,"k":"m"},{"y":433,"k":"m"},{"y":425,"k":"m"},{"y":411,"k":"m"},{"y":404,"k":"m"},{"y":396,"k":"m"},{"y":389,"k":"m"},{"y":375,"k":"m"},{"y":367,"k":"m"},{"y":360,"k":"m"},{"y":352,"k":"m"},{"y":338,"k":"m"},{"y":331,"k":"m"},{"y":323,"k":"m"},{"y":316,"k":"m"},{"y":302,"k":"m"},{"y":294,"k":"m"},{"y":287,"k":"m"},{"y":279,"k":"m"},{"y":265,"k":"m"},{"y":257,"k":"m"},{"y":250,"k":"m"},{"y":242,"k":"m"},{"y":228,"k":"m"},{"y":220,"k":"m"},{"y":213,"k":"m"},{"y":205,"k":"m"},{"y":191,"k":"m"},{"y":184,"k":"m"},{"y":176,"k":"m"},{"y":169,"k":"m"},{"y":155,"k":"m"},{"y":147,"k":"m"},{"y":140,"k":"m"},{"y":132,"k":"m"},{"y":117,"k":"m"},{"y":110,"k":"m"},{"y":103,"k":"m"},{"y":97,"k":"m"},
      {"y":87,"k":"axis"}],
    "gridR": [{"y":1625,"k":"top"},
      {"y":1601,"k":"M"},{"y":1500,"k":"M"},{"y":1400,"k":"M"},{"y":1187,"k":"M"},{"y":1073,"k":"M"},{"y":866,"k":"M"},{"y":773,"k":"M"},{"y":679,"k":"M"},{"y":594,"k":"M"},{"y":510,"k":"M"},{"y":426,"k":"M"},{"y":381,"k":"M"},{"y":342,"k":"M"},{"y":302,"k":"M"},{"y":263,"k":"M"},{"y":223,"k":"M"},{"y":183,"k":"M"},{"y":143,"k":"M"},
      {"y":1580,"k":"m"},{"y":1560,"k":"m"},{"y":1540,"k":"m"},{"y":1520,"k":"m"},{"y":1480,"k":"m"},{"y":1460,"k":"m"},{"y":1440,"k":"m"},{"y":1420,"k":"m"},{"y":1380,"k":"m"},{"y":1360,"k":"m"},{"y":1340,"k":"m"},{"y":1320,"k":"m"},{"y":1295,"k":"m"},{"y":1277,"k":"m"},{"y":1255,"k":"m"},{"y":1232,"k":"m"},{"y":1210,"k":"m"},{"y":1163,"k":"m"},{"y":1142,"k":"m"},{"y":1118,"k":"m"},{"y":1097,"k":"m"},{"y":1052,"k":"m"},{"y":1028,"k":"m"},{"y":1007,"k":"m"},{"y":983,"k":"m"},{"y":962,"k":"m"},{"y":940,"k":"m"},{"y":923,"k":"m"},{"y":904,"k":"m"},{"y":884,"k":"m"},{"y":847,"k":"m"},{"y":829,"k":"m"},{"y":810,"k":"m"},{"y":791,"k":"m"},{"y":754,"k":"m"},{"y":735,"k":"m"},{"y":717,"k":"m"},{"y":698,"k":"m"},{"y":662,"k":"m"},{"y":645,"k":"m"},{"y":628,"k":"m"},{"y":611,"k":"m"},{"y":577,"k":"m"},{"y":560,"k":"m"},{"y":543,"k":"m"},{"y":527,"k":"m"},{"y":493,"k":"m"},{"y":476,"k":"m"},{"y":459,"k":"m"},{"y":443,"k":"m"},{"y":403,"k":"m"},{"y":397,"k":"m"},{"y":388,"k":"m"},{"y":373,"k":"m"},{"y":365,"k":"m"},{"y":357,"k":"m"},{"y":349,"k":"m"},{"y":334,"k":"m"},{"y":326,"k":"m"},{"y":318,"k":"m"},{"y":310,"k":"m"},{"y":294,"k":"m"},{"y":286,"k":"m"},{"y":278,"k":"m"},{"y":270,"k":"m"},{"y":255,"k":"m"},{"y":247,"k":"m"},{"y":239,"k":"m"},{"y":231,"k":"m"},{"y":215,"k":"m"},{"y":207,"k":"m"},{"y":199,"k":"m"},{"y":191,"k":"m"},{"y":175,"k":"m"},{"y":167,"k":"m"},{"y":159,"k":"m"},{"y":151,"k":"m"},{"y":135,"k":"m"},{"y":128,"k":"m"},{"y":121,"k":"m"},
      {"y":102,"k":"band"}],
    "notesL": [{"t":"a)","x":116,"y":1593,"k":"tag"},{"t":"b)","x":116,"y":1315,"k":"tag"},{"t":"c)","x":116,"y":1084,"k":"tag"},{"t":"d)","x":116,"y":773,"k":"tag"},{"t":"e)","x":116,"y":403,"k":"tag"},
      {"t":"Resina SU8-3035","x":139,"y":1522,"k":"name"},{"t":"Carbono pirólítico","x":2413,"y":1261,"k":"name"},{"t":"Depósito de níquel","x":86,"y":1030,"k":"name"},{"t":"Difusión","x":3052,"y":772,"k":"name"},{"t":"Remoción de níquel","x":2676,"y":401,"k":"name"},
      {"t":"D","x":1108,"y":1318,"k":"peak"},{"t":"G","x":1550,"y":1344,"k":"peak"},{"t":"D","x":1042,"y":732,"k":"peak"},{"t":"G","x":1609,"y":789,"k":"peak"},{"t":"2D","x":2498,"y":670,"k":"peak"},{"t":"D","x":1088,"y":382,"k":"peak"},{"t":"G","x":1490,"y":430,"k":"peak"},{"t":"2D","x":2399,"y":309,"k":"peak"}],
    "notesR": [{"t":"f)","x":3674,"y":1581,"k":"tag"},{"t":"g)","x":3681,"y":1266,"k":"tag"},{"t":"h)","x":3547,"y":897,"k":"tag"},{"t":"i)","x":3540,"y":591,"k":"tag"},{"t":"j)","x":3540,"y":306,"k":"tag"},
      {"t":"Fotolitografía","x":2768,"y":1466,"k":"name"},{"t":"Pirólisis","x":3066,"y":1096,"k":"name"},{"t":"Depósito de níquel","x":483,"y":840,"k":"name"},{"t":"Difusión","x":2782,"y":553,"k":"name"},{"t":"Remoción de níquel","x":2662,"y":241,"k":"name"}]
  },
  "hconcat": [
    {
      "width": 685,
      "height": 1637,
      "layer": [
        {"data": {"name": "a"},
         "mark": {"type": "line", "color": "#ad7633", "strokeWidth": 1.4},
         "encoding": {
           "x": {"field": "x", "type": "quantitative", "scale": {"domain": [-70.1, 4247], "nice": false, "zero": false},
                 "axis": {"title": "Corrimiento Raman [cm⁻¹]", "values": [125.9199, 617.6791, 1109.438, 1601.197, 2092.957, 2584.716, 3076.475, 3568.234, 4059.993],
                          "format": ".7r", "offset": -89, "domain": false, "grid": false, "ticks": true, "tickColor": "#a8a8a8", "tickSize": 5,
                          "labelPadding": 5, "labelFont": "Liberation Sans Narrow, DejaVu Sans Condensed, Liberation Sans", "labelFontSize": 13, "labelColor": "#222222",
                          "labelOverlap": false, "labelFlush": false,
                          "titleFont": "Liberation Sans Narrow, DejaVu Sans Condensed, Liberation Sans", "titleFontSize": 16, "titleFontWeight": "normal", "titleColor": "#333333",
                          "titleX": 302, "titleY": 69, "titleBaseline": "middle", "titleAlign": "center"}},
           "y": {"field": "y", "type": "quantitative", "scale": {"domain": [-2, 1635], "nice": false, "zero": false},
                 "axis": {"title": "Intensidad [u.a]", "domain": false, "ticks": false, "labels": false, "grid": false,
                          "titleX": -19, "titleY": 988, "titleAngle": -90, "titleAlign": "center", "titleBaseline": "middle",
                          "titleFont": "Liberation Sans", "titleFontSize": 29, "titleFontWeight": "normal", "titleColor": "#000000"}}}},
        {"data": {"name": "gridL"}, "transform": [{"filter": "datum.k === 'm'"}],
         "mark": {"type": "rule", "color": "#d9d9d9", "strokeWidth": 1.2},
         "encoding": {"y": {"field": "y", "type": "quantitative", "scale": {"domain": [-2, 1635], "nice": false, "zero": false}},
                      "x": {"datum": 13, "type": "quantitative", "scale": {"domain": [-70.1, 4247], "nice": false, "zero": false}}, "x2": {"datum": 4142}}},
        {"data": {"name": "gridL"}, "transform": [{"filter": "datum.k === 'M'"}],
         "mark": {"type": "rule", "color": "#ababab", "strokeWidth": 2},
         "encoding": {"y": {"field": "y", "type": "quantitative", "scale": {"domain": [-2, 1635], "nice": false, "zero": false}},
                      "x": {"datum": 13, "type": "quantitative", "scale": {"domain": [-70.1, 4247], "nice": false, "zero": false}}, "x2": {"datum": 4142}}},
        {"data": {"name": "gridL"}, "transform": [{"filter": "datum.k === 'axis'"}],
         "mark": {"type": "rule", "color": "#bdbdbd", "strokeWidth": 1.5},
         "encoding": {"y": {"field": "y", "type": "quantitative", "scale": {"domain": [-2, 1635], "nice": false, "zero": false}},
                      "x": {"datum": -35, "type": "quantitative", "scale": {"domain": [-70.1, 4247], "nice": false, "zero": false}}, "x2": {"datum": 4110}}},
        {"data": {"name": "a"}, "mark": {"type": "line", "color": "#ad7633", "strokeWidth": 1.4},
         "encoding": {"x": {"field": "x", "type": "quantitative", "scale": {"domain": [-70.1, 4247], "nice": false, "zero": false}},
                      "y": {"field": "y", "type": "quantitative", "scale": {"domain": [-2, 1635], "nice": false, "zero": false}}}},
        {"data": {"name": "b"}, "mark": {"type": "line", "color": "#111111", "strokeWidth": 1.4},
         "encoding": {"x": {"field": "x", "type": "quantitative", "scale": {"domain": [-70.1, 4247], "nice": false, "zero": false}},
                      "y": {"field": "y", "type": "quantitative", "scale": {"domain": [-2, 1635], "nice": false, "zero": false}}}},
        {"data": {"name": "c"}, "mark": {"type": "line", "color": "#e3b62c", "strokeWidth": 1.7},
         "encoding": {"x": {"field": "x", "type": "quantitative", "scale": {"domain": [-70.1, 4247], "nice": false, "zero": false}},
                      "y": {"field": "y", "type": "quantitative", "scale": {"domain": [-2, 1635], "nice": false, "zero": false}}}},
        {"data": {"name": "d"}, "mark": {"type": "line", "color": "#84b23a", "strokeWidth": 1.4},
         "encoding": {"x": {"field": "x", "type": "quantitative", "scale": {"domain": [-70.1, 4247], "nice": false, "zero": false}},
                      "y": {"field": "y", "type": "quantitative", "scale": {"domain": [-2, 1635], "nice": false, "zero": false}}}},
        {"data": {"name": "e"}, "mark": {"type": "line", "color": "#1d5a7a", "strokeWidth": 1.4},
         "encoding": {"x": {"field": "x", "type": "quantitative", "scale": {"domain": [-70.1, 4247], "nice": false, "zero": false}},
                      "y": {"field": "y", "type": "quantitative", "scale": {"domain": [-2, 1635], "nice": false, "zero": false}}}},
        {"data": {"name": "notesL"}, "transform": [{"filter": "datum.k === 'tag'"}],
         "mark": {"type": "text", "align": "left", "baseline": "middle", "font": "Liberation Sans", "fontSize": 26, "fontWeight": "bold", "color": "#000000"},
         "encoding": {"x": {"field": "x", "type": "quantitative", "scale": {"domain": [-70.1, 4247], "nice": false, "zero": false}},
                      "y": {"field": "y", "type": "quantitative", "scale": {"domain": [-2, 1635], "nice": false, "zero": false}},
                      "text": {"field": "t"}}},
        {"data": {"name": "notesL"}, "transform": [{"filter": "datum.k === 'name'"}],
         "mark": {"type": "text", "align": "left", "baseline": "middle", "font": "Liberation Sans Narrow, DejaVu Sans Condensed, Liberation Sans", "fontSize": 17, "color": "#3a3a3a"},
         "encoding": {"x": {"field": "x", "type": "quantitative", "scale": {"domain": [-70.1, 4247], "nice": false, "zero": false}},
                      "y": {"field": "y", "type": "quantitative", "scale": {"domain": [-2, 1635], "nice": false, "zero": false}},
                      "text": {"field": "t"}}},
        {"data": {"name": "notesL"}, "transform": [{"filter": "datum.k === 'peak'"}],
         "mark": {"type": "text", "align": "center", "baseline": "middle", "font": "Lato", "fontSize": 21, "color": "#1a1a1a"},
         "encoding": {"x": {"field": "x", "type": "quantitative", "scale": {"domain": [-70.1, 4247], "nice": false, "zero": false}},
                      "y": {"field": "y", "type": "quantitative", "scale": {"domain": [-2, 1635], "nice": false, "zero": false}},
                      "text": {"field": "t"}}}
      ]
    },
    {
      "width": 655,
      "height": 1637,
      "layer": [
        {"data": {"name": "f"},
         "mark": {"type": "line", "color": "#4a2a12", "strokeWidth": 2.3},
         "encoding": {
           "x": {"field": "x", "type": "quantitative", "scale": {"domain": [-85, 4348], "nice": false, "zero": false},
                 "axis": {"title": "Corrimiento Raman [cm⁻¹]", "values": [128.9199, 620.6791, 1112.438, 1604.197, 2095.957, 2587.716, 3079.475, 3571.234, 4062.993],
                          "labelExpr": "datum.value > 600 && datum.value < 700 ? '520.6791' : format(datum.value, '.7r')",
                          "offset": -97, "domain": false, "grid": false, "ticks": false,
                          "labelPadding": 6, "labelFont": "Liberation Sans Narrow, DejaVu Sans Condensed, Liberation Sans", "labelFontSize": 13, "labelColor": "#222222",
                          "labelOverlap": false, "labelFlush": false,
                          "titleFont": "Liberation Sans Narrow, DejaVu Sans Condensed, Liberation Sans", "titleFontSize": 16, "titleFontWeight": "normal", "titleColor": "#333333",
                          "titleX": 330, "titleY": 68, "titleBaseline": "middle", "titleAlign": "center"}},
           "y": {"field": "y", "type": "quantitative", "scale": {"domain": [-2, 1635], "nice": false, "zero": false},
                 "axis": {"title": "Intensidad [u.a]", "domain": false, "ticks": false, "labels": false, "grid": false,
                          "titleX": -16, "titleY": 999, "titleAngle": -90, "titleAlign": "center", "titleBaseline": "middle",
                          "titleFont": "Liberation Sans", "titleFontSize": 29, "titleFontWeight": "normal", "titleColor": "#000000"}}}},
        {"data": {"name": "gridR"}, "transform": [{"filter": "datum.k === 'm'"}],
         "mark": {"type": "rule", "color": "#d9d9d9", "strokeWidth": 1.2},
         "encoding": {"y": {"field": "y", "type": "quantitative", "scale": {"domain": [-2, 1635], "nice": false, "zero": false}},
                      "x": {"datum": 170, "type": "quantitative", "scale": {"domain": [-85, 4348], "nice": false, "zero": false}}, "x2": {"datum": 4230}}},
        {"data": {"name": "gridR"}, "transform": [{"filter": "datum.k === 'M'"}],
         "mark": {"type": "rule", "color": "#ababab", "strokeWidth": 2},
         "encoding": {"y": {"field": "y", "type": "quantitative", "scale": {"domain": [-2, 1635], "nice": false, "zero": false}},
                      "x": {"datum": 170, "type": "quantitative", "scale": {"domain": [-85, 4348], "nice": false, "zero": false}}, "x2": {"datum": 4230}}},
        {"data": {"name": "gridR"}, "transform": [{"filter": "datum.k === 'top'"}],
         "mark": {"type": "rule", "color": "#b3b3b3", "strokeWidth": 2.5},
         "encoding": {"y": {"field": "y", "type": "quantitative", "scale": {"domain": [-2, 1635], "nice": false, "zero": false}},
                      "x": {"datum": 57, "type": "quantitative", "scale": {"domain": [-85, 4348], "nice": false, "zero": false}}, "x2": {"datum": 4023}}},
        {"data": {"name": "gridR"}, "transform": [{"filter": "datum.k === 'band'"}],
         "mark": {"type": "rule", "color": "#d5d5d5", "strokeWidth": 8},
         "encoding": {"y": {"field": "y", "type": "quantitative", "scale": {"domain": [-2, 1635], "nice": false, "zero": false}},
                      "x": {"datum": 135, "type": "quantitative", "scale": {"domain": [-85, 4348], "nice": false, "zero": false}}, "x2": {"datum": 4265}}},
        {"data": {"name": "f"}, "mark": {"type": "line", "color": "#4a2a12", "strokeWidth": 2.3},
         "encoding": {"x": {"field": "x", "type": "quantitative", "scale": {"domain": [-85, 4348], "nice": false, "zero": false}},
                      "y": {"field": "y", "type": "quantitative", "scale": {"domain": [-2, 1635], "nice": false, "zero": false}}}},
        {"data": {"name": "g"}, "mark": {"type": "line", "color": "#4a2a12", "strokeWidth": 2.3},
         "encoding": {"x": {"field": "x", "type": "quantitative", "scale": {"domain": [-85, 4348], "nice": false, "zero": false}},
                      "y": {"field": "y", "type": "quantitative", "scale": {"domain": [-2, 1635], "nice": false, "zero": false}}}},
        {"data": {"name": "j"}, "mark": {"type": "line", "color": "#4a2a12", "strokeWidth": 2.3},
         "encoding": {"x": {"field": "x", "type": "quantitative", "scale": {"domain": [-85, 4348], "nice": false, "zero": false}},
                      "y": {"field": "y", "type": "quantitative", "scale": {"domain": [-2, 1635], "nice": false, "zero": false}}}},
        {"data": {"name": "h"}, "mark": {"type": "line", "color": "#e8b73a", "strokeWidth": 1.7},
         "encoding": {"x": {"field": "x", "type": "quantitative", "scale": {"domain": [-85, 4348], "nice": false, "zero": false}},
                      "y": {"field": "y", "type": "quantitative", "scale": {"domain": [-2, 1635], "nice": false, "zero": false}}}},
        {"data": {"name": "i"}, "mark": {"type": "line", "color": "#e8b73a", "strokeWidth": 1.7},
         "encoding": {"x": {"field": "x", "type": "quantitative", "scale": {"domain": [-85, 4348], "nice": false, "zero": false}},
                      "y": {"field": "y", "type": "quantitative", "scale": {"domain": [-2, 1635], "nice": false, "zero": false}}}},
        {"data": {"name": "notesR"}, "transform": [{"filter": "datum.k === 'tag'"}],
         "mark": {"type": "text", "align": "left", "baseline": "middle", "font": "Liberation Sans", "fontSize": 26, "fontWeight": "bold", "color": "#000000"},
         "encoding": {"x": {"field": "x", "type": "quantitative", "scale": {"domain": [-85, 4348], "nice": false, "zero": false}},
                      "y": {"field": "y", "type": "quantitative", "scale": {"domain": [-2, 1635], "nice": false, "zero": false}},
                      "text": {"field": "t"}}},
        {"data": {"name": "notesR"}, "transform": [{"filter": "datum.k === 'name'"}],
         "mark": {"type": "text", "align": "left", "baseline": "middle", "font": "Liberation Sans Narrow, DejaVu Sans Condensed, Liberation Sans", "fontSize": 17, "color": "#3a3a3a"},
         "encoding": {"x": {"field": "x", "type": "quantitative", "scale": {"domain": [-85, 4348], "nice": false, "zero": false}},
                      "y": {"field": "y", "type": "quantitative", "scale": {"domain": [-2, 1635], "nice": false, "zero": false}},
                      "text": {"field": "t"}}}
      ]
    }
  ]
}
